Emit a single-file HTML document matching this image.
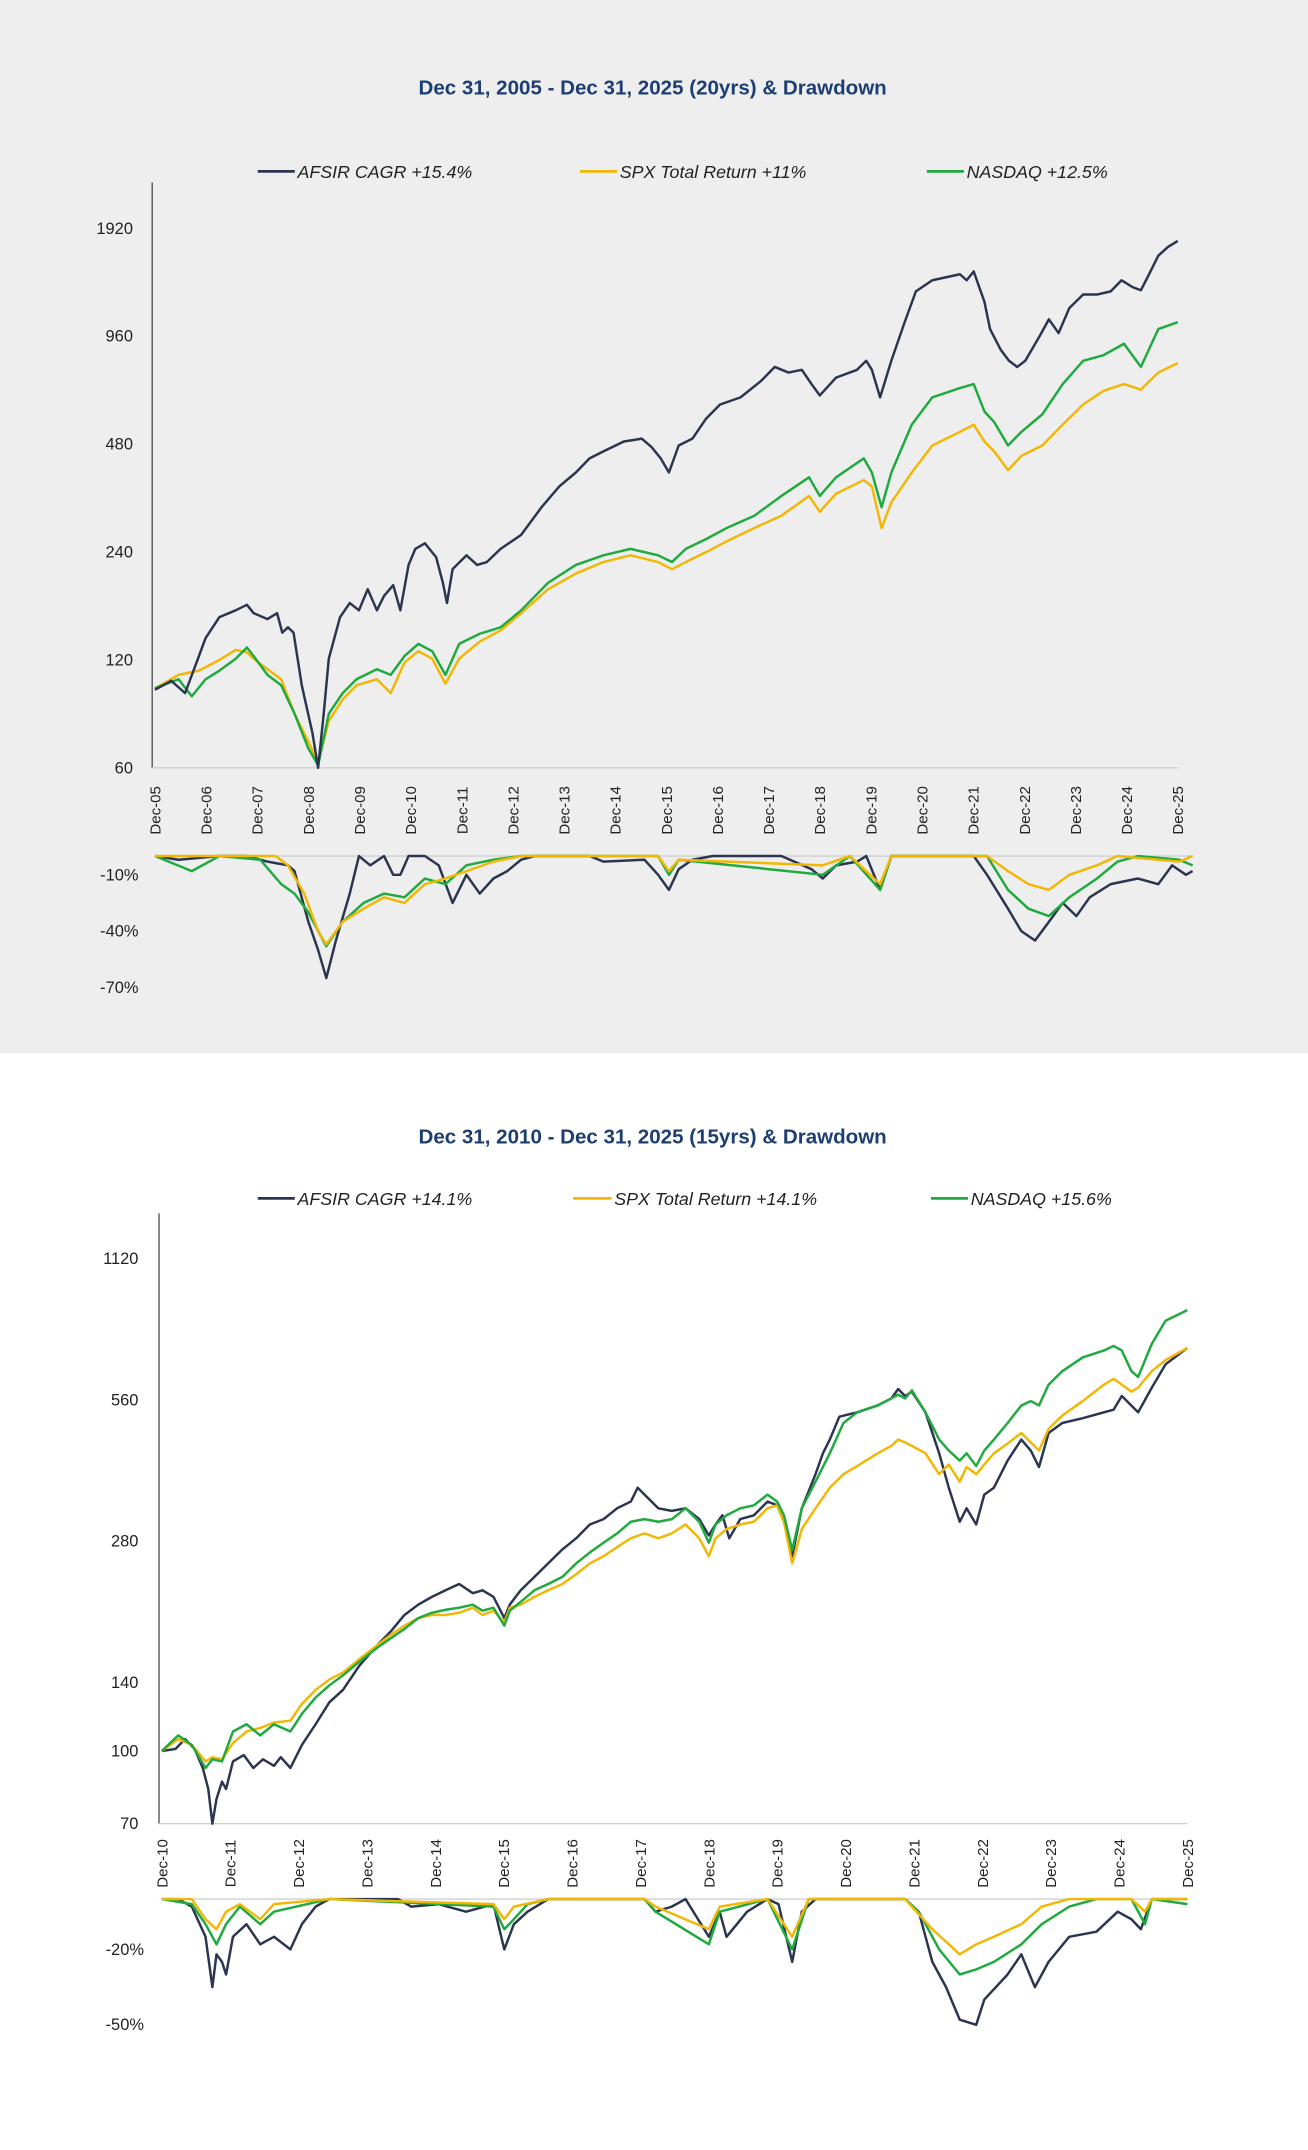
<!DOCTYPE html>
<html><head><meta charset="utf-8">
<style>
html,body{margin:0;padding:0;background:#fff;}
svg{display:block;font-family:"Liberation Sans",sans-serif;}
</style></head>
<body>
<svg id="root" width="1308" height="2150" viewBox="0 0 954 1568" preserveAspectRatio="none" xmlns="http://www.w3.org/2000/svg">
  <rect x="0" y="0" width="954" height="768" fill="#eeeeee"/>
  <rect x="0" y="768" width="954" height="800" fill="#ffffff"/>

  <text x="476" y="69" text-anchor="middle" font-size="15" font-weight="bold" fill="#1d3e72">Dec 31, 2005 - Dec 31, 2025  (20yrs) &amp; Drawdown</text>
  <text x="476" y="834" text-anchor="middle" font-size="15" font-weight="bold" fill="#1d3e72">Dec 31, 2010 - Dec 31, 2025  (15yrs) &amp; Drawdown</text>

  <g font-size="13" font-style="italic" fill="#222">
    <line x1="188" y1="125" x2="215" y2="125" stroke="#2b3550" stroke-width="2"/>
    <text x="217" y="130">AFSIR CAGR +15.4%</text>
    <line x1="423" y1="125" x2="450" y2="125" stroke="#f2b705" stroke-width="2"/>
    <text x="452" y="130">SPX Total Return +11%</text>
    <line x1="676" y1="125" x2="703" y2="125" stroke="#1faa3f" stroke-width="2"/>
    <text x="705" y="130">NASDAQ +12.5%</text>
  </g>
  <g font-size="13" font-style="italic" fill="#222">
    <line x1="188" y1="874" x2="215" y2="874" stroke="#2b3550" stroke-width="2"/>
    <text x="217" y="879">AFSIR  CAGR +14.1%</text>
    <line x1="418" y1="874" x2="446" y2="874" stroke="#f2b705" stroke-width="2"/>
    <text x="448" y="879">SPX Total Return +14.1%</text>
    <line x1="679" y1="874" x2="706" y2="874" stroke="#1faa3f" stroke-width="2"/>
    <text x="708" y="879">NASDAQ +15.6%</text>
  </g>
  <g id="c1"></g>
  <g id="c2"></g>
</svg>
<script>
// ---------- Chart 1 data (t = years since Dec-05) ----------
var c1Ticks = [1920, 960, 480, 240, 120, 60];
var c1DateLabels = ["Dec-05","Dec-06","Dec-07","Dec-08","Dec-09","Dec-10","Dec-11","Dec-12","Dec-13","Dec-14","Dec-15","Dec-16","Dec-17","Dec-18","Dec-19","Dec-20","Dec-21","Dec-22","Dec-23","Dec-24","Dec-25"];
var c1DDTicks = [-10, -40, -70];
var c1AfsirT = [0,.32,.59,.86,.99,1.26,1.58,1.80,1.93,2.20,2.39,2.49,2.60,2.71,2.87,3.08,3.19,3.30,3.40,3.62,3.81,3.99,4.16,4.34,4.48,4.66,4.80,4.96,5.09,5.28,5.50,5.63,5.71,5.82,6.09,6.30,6.49,6.76,7.16,7.56,7.91,8.23,8.50,8.77,9.17,9.52,9.71,9.89,10.05,10.24,10.51,10.78,11.05,11.45,11.85,12.12,12.39,12.65,12.84,13.00,13.32,13.73,13.91,14.02,14.18,14.40,14.66,14.88,15.20,15.74,15.87,16.01,16.22,16.33,16.54,16.70,16.86,17.02,17.29,17.48,17.67,17.88,18.15,18.42,18.69,18.90,19.12,19.28,19.44,19.62,19.81,20.00];
var c1AfsirV = [99,105,97,123,138,158,165,171,162,156,162,143,148,143,102,75,60,85,121,158,173,165,189,165,181,194,165,221,245,254,232,197,173,215,235,221,225,245,268,320,366,400,438,458,488,497,471,438,400,476,497,566,619,648,720,788,760,774,706,656,736,774,820,774,648,820,1050,1280,1375,1430,1375,1455,1198,1005,880,820,788,820,955,1070,980,1150,1255,1255,1280,1375,1315,1290,1430,1610,1704,1770];
var c1SpxT = [0,.46,.86,1.26,1.58,1.80,1.93,2.20,2.47,2.73,3.00,3.19,3.40,3.67,3.94,4.34,4.61,4.88,5.15,5.42,5.68,5.95,6.35,6.76,7.16,7.69,8.23,8.77,9.30,9.84,10.11,10.38,10.78,11.18,11.72,12.25,12.79,13.00,13.32,13.86,14.02,14.21,14.40,14.80,15.20,15.74,16.01,16.22,16.41,16.68,16.94,17.35,17.75,18.15,18.55,18.95,19.28,19.62,20.00];
var c1SpxV = [100,109,112,120,128,126,121,113,106,85,71,62,81,93,102,106,97,118,127,121,103,121,135,145,162,189,209,225,235,225,215,225,240,257,280,303,344,311,349,381,366,280,330,400,476,519,544,488,458,406,445,476,544,619,676,706,681,760,808];
var c1NasdaqT = [0,.46,.72,.99,1.26,1.58,1.80,1.93,2.20,2.47,2.73,3.00,3.19,3.40,3.67,3.94,4.34,4.61,4.88,5.15,5.42,5.68,5.95,6.35,6.76,7.16,7.69,8.23,8.77,9.30,9.84,10.11,10.38,10.78,11.18,11.72,12.25,12.79,13.00,13.32,13.86,14.02,14.21,14.40,14.80,15.20,15.74,16.01,16.22,16.41,16.68,16.94,17.35,17.75,18.15,18.55,18.95,19.28,19.62,20.00];
var c1NasdaqV = [100,106,95,106,112,121,130,123,109,102,85,68,61,85,97,106,113,109,123,133,127,109,133,142,148,165,197,221,235,245,235,225,245,261,280,303,344,388,344,388,438,400,320,400,544,648,688,706,592,553,476,519,581,706,820,850,915,788,1005,1050];
var c1AfsirDDT = [0,.46,.86,1.26,1.80,2.20,2.60,2.73,3.00,3.19,3.35,3.54,3.81,3.99,4.21,4.48,4.66,4.80,4.96,5.28,5.55,5.82,6.09,6.35,6.62,6.89,7.16,7.43,8.50,8.77,9.57,9.84,10.05,10.24,10.51,10.91,12.25,12.84,13.06,13.32,13.73,13.91,14.18,14.40,14.93,16.01,16.27,16.68,16.94,17.21,17.48,17.75,18.02,18.28,18.69,19.22,19.62,19.89,20.16,20.29];
var c1AfsirDD = [0,-2,-1,0,0,-3,-5,-8,-35,-50,-65,-45,-20,0,-5,0,-10,-10,0,0,-5,-25,-10,-20,-12,-8,-2,0,0,-3,-2,-10,-18,-7,-2,0,0,-7,-12,-5,-3,0,-18,0,0,0,-10,-28,-40,-45,-35,-25,-32,-22,-15,-12,-15,-5,-10,-8];
var c1SpxDDT = [0,1.26,2.36,2.60,2.92,3.19,3.35,3.67,4.08,4.48,4.88,5.28,5.68,6.09,6.62,7.16,9.84,10.05,10.24,13.06,13.59,14.18,14.40,16.27,16.68,17.08,17.48,17.88,18.42,18.82,20.03,20.29];
var c1SpxDD = [0,0,0,-5,-20,-40,-47,-35,-28,-22,-25,-15,-12,-8,-3,0,0,-8,-2,-5,0,-15,0,0,-8,-15,-18,-10,-5,0,-3,0];
var c1NasdaqDDT = [0,.72,1.26,2.06,2.47,2.73,3.00,3.35,3.67,4.08,4.48,4.88,5.28,5.68,6.09,6.62,7.16,9.84,10.05,10.24,13.06,13.59,14.18,14.40,16.27,16.68,17.08,17.48,17.88,18.42,18.82,19.22,20.03,20.29];
var c1NasdaqDD = [0,-8,0,-2,-15,-20,-30,-48,-35,-25,-20,-22,-12,-15,-5,-2,0,0,-10,-2,-10,0,-18,0,0,-18,-28,-32,-22,-12,-3,0,-2,-5];

// ---------- Chart 2 data (t = years since Dec-10) ----------
var c2Ticks = [1120, 560, 280, 140, 100, 70];
var c2DateLabels = ["Dec-10","Dec-11","Dec-12","Dec-13","Dec-14","Dec-15","Dec-16","Dec-17","Dec-18","Dec-19","Dec-20","Dec-21","Dec-22","Dec-23","Dec-24","Dec-25"];
var c2DDTicks = [-20, -50];
var c2AfsirT = [0,.20,.34,.48,.60,.68,.74,.80,.88,.94,1.04,1.20,1.34,1.48,1.64,1.74,1.88,2.05,2.25,2.45,2.65,2.89,3.15,3.35,3.55,3.75,3.95,4.15,4.35,4.55,4.69,4.85,5.01,5.09,5.25,5.45,5.65,5.86,6.06,6.26,6.46,6.66,6.86,6.96,7.06,7.26,7.46,7.66,7.86,8.00,8.10,8.20,8.30,8.46,8.66,8.86,9.00,9.10,9.22,9.36,9.56,9.67,9.77,9.91,10.17,10.47,10.67,10.77,10.87,10.97,11.17,11.37,11.51,11.67,11.77,11.91,12.03,12.17,12.37,12.57,12.71,12.83,12.97,13.17,13.47,13.78,13.92,14.04,14.28,14.48,14.68,15.00];
var c2AfsirV = [100,101,106,101,92,83,70,79,86,83,95,98,92,96,93,97,92,103,114,127,135,152,168,180,195,205,213,220,227,217,220,213,192,205,220,235,251,269,284,304,312,329,340,364,352,329,325,329,312,288,304,318,284,312,318,340,334,308,260,329,389,431,461,516,527,545,564,591,571,583,527,431,364,308,329,304,352,364,416,461,437,403,476,500,512,527,534,571,527,595,667,723];
var c2BenchT = [0,.24,.44,.64,.74,.88,1.04,1.24,1.44,1.64,1.88,2.05,2.25,2.45,2.65,2.89,3.15,3.35,3.55,3.75,3.95,4.15,4.35,4.55,4.69,4.85,5.01,5.09,5.25,5.45,5.65,5.86,6.06,6.26,6.46,6.66,6.86,7.06,7.26,7.46,7.66,7.86,8.00,8.10,8.26,8.46,8.66,8.86,9.00,9.10,9.22,9.36,9.56,9.77,9.97,10.17,10.47,10.67,10.77,10.87,10.97,11.17,11.37,11.51,11.67,11.77,11.91,12.03,12.17,12.37,12.57,12.71,12.83,12.97,13.17,13.47,13.78,13.92,14.04,14.18,14.28,14.48,14.68,15.00];
var c2SpxV = [100,106,103,95,97,96,104,110,112,115,116,126,135,142,147,157,168,177,185,192,195,195,197,202,195,199,188,202,205,213,220,227,238,251,260,272,284,291,284,291,304,284,260,284,297,304,308,329,334,308,251,297,329,364,389,405,431,447,461,455,447,431,389,408,375,403,389,408,431,452,476,455,437,486,519,557,604,621,604,583,595,645,681,723];
var c2NasdaqV = [100,108,103,92,96,95,110,114,108,114,110,120,130,138,145,155,166,174,182,192,197,200,202,205,199,202,185,199,208,220,227,235,251,265,278,291,308,312,308,312,329,308,278,304,318,329,334,352,340,318,268,329,375,431,500,527,545,564,575,564,587,527,461,437,416,431,405,437,461,500,545,557,545,604,645,690,714,730,714,645,627,738,826,870];
var c2AfsirDDT = [0,.24,.44,.64,.74,.80,.88,.94,1.04,1.24,1.44,1.64,1.88,2.05,2.25,2.45,3.45,3.65,4.05,4.45,4.85,5.01,5.15,5.35,5.65,7.06,7.22,7.46,7.66,8.00,8.16,8.26,8.56,8.86,9.02,9.22,9.36,9.56,10.47,10.87,11.07,11.27,11.47,11.67,11.91,12.03,12.37,12.57,12.77,12.97,13.27,13.67,13.98,14.18,14.32,14.48,15.00];
var c2AfsirDD = [0,0,-3,-15,-35,-22,-25,-30,-15,-10,-18,-15,-20,-10,-3,0,0,-3,-2,-5,-2,-20,-10,-5,0,0,-5,-3,0,-15,-5,-15,-5,0,-2,-25,-5,0,0,0,-5,-25,-35,-48,-50,-40,-30,-22,-35,-25,-15,-13,-5,-8,-12,0,0];
var c2SpxDDT = [0,.44,.64,.80,.94,1.14,1.44,1.64,2.45,4.85,5.01,5.15,5.65,7.06,7.22,8.00,8.16,8.86,9.22,9.46,10.87,11.27,11.67,11.91,12.17,12.57,12.87,13.27,14.18,14.38,14.48,15.00];
var c2SpxDD = [0,0,-8,-12,-5,-2,-8,-2,0,-2,-8,-3,0,0,-3,-12,-3,0,-15,0,0,-12,-22,-18,-15,-10,-3,0,0,-5,0,0];
var c2NasdaqDDT = [0,.44,.64,.80,.94,1.14,1.44,1.64,2.45,4.85,5.01,5.15,5.35,5.65,7.06,7.22,8.00,8.16,8.86,9.22,9.46,10.87,11.07,11.37,11.67,11.91,12.17,12.57,12.87,13.27,13.67,14.18,14.38,14.48,15.00];
var c2NasdaqDD = [0,-2,-10,-18,-10,-3,-10,-5,0,-3,-12,-8,-2,0,0,-5,-18,-5,0,-20,0,0,-5,-20,-30,-28,-25,-18,-10,-3,0,0,-10,0,-2];

var NS = "http://www.w3.org/2000/svg";
var COL = {afsir:"#2b3550", spx:"#f2b705", nasdaq:"#1faa3f"};

function mk(tag, attrs, parent) {
  var el = document.createElementNS(NS, tag);
  for (var k in attrs) el.setAttribute(k, attrs[k]);
  parent.appendChild(el);
  return el;
}

function drawChart(g, cfg) {
  function xs(t) { return cfg.x0 + t * cfg.pxYear; }
  function ys(v) { return cfg.yBase - Math.log(v / cfg.vBase) / Math.LN2 * cfg.pxDouble; }
  function yd(d) { return cfg.ddZero - d * cfg.pxPct; }

  var ax = mk("line", {x1: cfg.axisX, y1: cfg.axisTop, x2: cfg.axisX, y2: cfg.yBase, stroke: "#555", "stroke-width": 1}, g);
  
  
  var bx = mk("line", {x1: cfg.axisX, y1: cfg.yBase, x2: xs(cfg.years), y2: cfg.yBase, stroke: "#cfcfcf", "stroke-width": 1}, g);
  
  

  cfg.ticks.forEach(function (v) {
    var t = mk("text", {x: cfg.tickX, y: ys(v) + 4, "text-anchor": "end", "font-size": 12, fill: "#222"}, g);
    t.textContent = v;
    
    
  });
  cfg.dates.forEach(function (lab, i) {
    var x = xs(i), y = cfg.dateY;
    var t = mk("text", {x: x + 4, y: y, "text-anchor": "middle", "font-size": 11, fill: "#222", transform: "rotate(-90 " + (x + 4) + " " + y + ")"}, g);
    t.textContent = lab;
    
    
  });
  var zl = mk("line", {x1: xs(0), y1: cfg.ddZero, x2: xs(cfg.ddEnd), y2: cfg.ddZero, stroke: "#cfcfcf", "stroke-width": 1}, g);
  
  
  cfg.ddTicks.forEach(function (d) {
    var t = mk("text", {x: cfg.ddTickX, y: yd(d) + 4, "text-anchor": "end", "font-size": 12, fill: "#222"}, g);
    t.textContent = d + "%";
    
    
  });

  function line(T, V, fn, color, name) {
    var d = "";
    for (var i = 0; i < T.length && i < V.length; i++) d += (i ? "L" : "M") + xs(T[i]).toFixed(1) + " " + fn(V[i]).toFixed(1);
    var p = mk("path", {d: d, fill: "none", stroke: color, "stroke-width": 1.8, "stroke-linejoin": "round"}, g);
    
    
  }
  cfg.series.forEach(function (s) { line(s.t, s.v, ys, s.c, s.n + "-line"); });
  cfg.dd.forEach(function (s) { line(s.t, s.v, yd, s.c, s.n + "-drawdown-line"); });
}

drawChart(document.getElementById("c1"), {
  x0: 113, pxYear: 37.3, years: 20, yBase: 560, vBase: 60, pxDouble: 78.7,
  axisX: 111, axisTop: 133, tickX: 97, ticks: c1Ticks, dates: c1DateLabels, dateY: 591,
  ddZero: 624.3, pxPct: 1.37, ddEnd: 20.3, ddTicks: c1DDTicks, ddTickX: 101,
  series: [
    {t: c1SpxT, v: c1SpxV, c: COL.spx, n: "chart1-spx"},
    {t: c1NasdaqT, v: c1NasdaqV, c: COL.nasdaq, n: "chart1-nasdaq"},
    {t: c1AfsirT, v: c1AfsirV, c: COL.afsir, n: "chart1-afsir"}
  ],
  dd: [
    {t: c1AfsirDDT, v: c1AfsirDD, c: COL.afsir, n: "chart1-afsir"},
    {t: c1NasdaqDDT, v: c1NasdaqDD, c: COL.nasdaq, n: "chart1-nasdaq"},
    {t: c1SpxDDT, v: c1SpxDD, c: COL.spx, n: "chart1-spx"}
  ]
});

drawChart(document.getElementById("c2"), {
  x0: 118, pxYear: 49.87, years: 15, yBase: 1330, vBase: 70, pxDouble: 103,
  axisX: 116, axisTop: 885, tickX: 101, ticks: c2Ticks, dates: c2DateLabels, dateY: 1359,
  ddZero: 1385, pxPct: 1.833, ddEnd: 15, ddTicks: c2DDTicks, ddTickX: 105,
  series: [
    {t: c2AfsirT, v: c2AfsirV, c: COL.afsir, n: "chart2-afsir"},
    {t: c2BenchT, v: c2SpxV, c: COL.spx, n: "chart2-spx"},
    {t: c2BenchT, v: c2NasdaqV, c: COL.nasdaq, n: "chart2-nasdaq"}
  ],
  dd: [
    {t: c2AfsirDDT, v: c2AfsirDD, c: COL.afsir, n: "chart2-afsir"},
    {t: c2NasdaqDDT, v: c2NasdaqDD, c: COL.nasdaq, n: "chart2-nasdaq"},
    {t: c2SpxDDT, v: c2SpxDD, c: COL.spx, n: "chart2-spx"}
  ]
});
</script>
</body></html>
